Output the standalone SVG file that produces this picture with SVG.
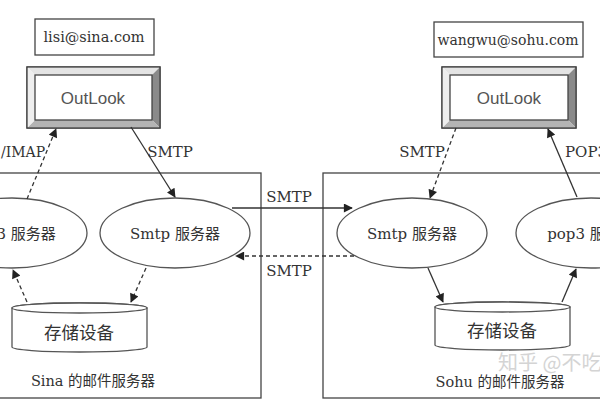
<svg xmlns="http://www.w3.org/2000/svg" width="600" height="400" viewBox="0 0 600 400">
<defs>
<style>
.box{fill:#fff;stroke:#444;stroke-width:1.3}
.frame{fill:none;stroke:#444;stroke-width:1.3}
.ell{fill:#fff;stroke:#555;stroke-width:1.3}
.ln{fill:none;stroke:#333;stroke-width:1.3}
.dash{stroke-dasharray:4 3}
.t{font-family:"DejaVu Serif","Noto Sans CJK SC",serif;font-size:15px;fill:#333;text-anchor:middle}
.ts{font-family:"Liberation Sans",Arial,sans-serif;font-size:17px;fill:#555;text-anchor:middle}
.wm{font-family:"Noto Sans CJK SC",sans-serif;font-size:20px;fill:#d4d4d4}
</style>
<marker id="ah" viewBox="0 0 10 10" refX="9" refY="5" markerWidth="10" markerHeight="9" markerUnits="userSpaceOnUse" orient="auto">
<path d="M0,0 L10,5 L0,10 z" fill="#222"/>
</marker>
</defs>
<rect width="600" height="400" fill="#fff"/>

<g id="sina-server">
<rect class="frame" x="-5" y="173" width="266" height="225"/>
<text class="t" x="93" y="386" style="font-size:14.5px">Sina 的邮件服务器</text>
</g>
<g id="sohu-server">
<rect class="frame" x="323" y="173" width="290" height="225"/>
<text class="t" x="500" y="387" style="font-size:14.5px">Sohu 的邮件服务器</text>
</g>

<g id="lisi-email">
<rect class="box" x="35" y="19" width="119" height="36"/>
<text class="t" x="94" y="42" style="font-size:14.5px">lisi@sina.com</text>
</g>
<g id="outlook-left">
<rect x="27" y="67" width="133" height="61" fill="#fff" stroke="#444" stroke-width="1.3"/>
<polygon points="27,67 160,67 152,75 35,75" fill="#e4e4e4"/>
<polygon points="160,67 160,128 152,120 152,75" fill="#8a8a8a"/>
<polygon points="27,128 160,128 152,120 35,120" fill="#b4b4b4"/>
<polygon points="27,67 35,75 35,120 27,128" fill="#eeeeee"/>
<rect x="27" y="67" width="133" height="61" fill="none" stroke="#444" stroke-width="1.3"/>
<rect x="35" y="75" width="117" height="45" fill="#fff" stroke="#444" stroke-width="1.3"/>
<text class="ts" x="93" y="104">OutLook</text>
</g>

<g id="wangwu-email">
<rect class="box" x="434" y="22" width="149" height="35"/>
<text class="t" x="508" y="45" style="font-size:14px">wangwu@sohu.com</text>
</g>
<g id="outlook-right">
<rect x="442" y="67" width="134" height="61" fill="#fff" stroke="#444" stroke-width="1.3"/>
<polygon points="442,67 576,67 568,75 450,75" fill="#e4e4e4"/>
<polygon points="576,67 576,128 568,120 568,75" fill="#8a8a8a"/>
<polygon points="442,128 576,128 568,120 450,120" fill="#b4b4b4"/>
<polygon points="442,67 450,75 450,120 442,128" fill="#eeeeee"/>
<rect x="442" y="67" width="134" height="61" fill="none" stroke="#444" stroke-width="1.3"/>
<rect x="450" y="75" width="118" height="45" fill="#fff" stroke="#444" stroke-width="1.3"/>
<text class="ts" x="509" y="104">OutLook</text>
</g>

<g id="sina-pop3">
<ellipse class="ell" cx="12" cy="233" rx="75" ry="35"/>
<text class="t" x="12" y="239">pop3 服务器</text>
</g>
<g id="sina-smtp">
<ellipse class="ell" cx="175" cy="233" rx="75" ry="35"/>
<text class="t" x="175" y="239">Smtp 服务器</text>
</g>
<g id="sina-storage">
<path class="ell" d="M12,308 A67.5,5 0 0 1 147,308 L147,347 A67.5,5 0 0 1 12,347 Z"/>
<ellipse class="ell" cx="79.5" cy="308" rx="67.5" ry="5"/>
<text class="t" x="79" y="339" style="font-size:17.5px">存储设备</text>
</g>

<g id="sohu-smtp">
<ellipse class="ell" cx="412" cy="233" rx="75" ry="35"/>
<text class="t" x="412" y="239">Smtp 服务器</text>
</g>
<g id="sohu-pop3">
<ellipse class="ell" cx="591" cy="233" rx="75" ry="35"/>
<text class="t" x="591" y="239">pop3 服务器</text>
</g>
<g id="sohu-storage">
<path class="ell" d="M435,307 A67.5,5 0 0 1 570,307 L570,345 A67.5,5 0 0 1 435,345 Z"/>
<ellipse class="ell" cx="502.5" cy="307" rx="67.5" ry="5"/>
<text class="t" x="502" y="337" style="font-size:17.5px">存储设备</text>
</g>

<g id="connectors">
<line class="ln dash" x1="27" y1="199" x2="56" y2="129" marker-end="url(#ah)"/>
<line class="ln" x1="131" y1="127" x2="175" y2="197" marker-end="url(#ah)"/>
<line class="ln dash" x1="27" y1="302" x2="13" y2="270" marker-end="url(#ah)"/>
<line class="ln dash" x1="146" y1="268" x2="131" y2="302" marker-end="url(#ah)"/>
<line class="ln" x1="232" y1="208" x2="352" y2="208" marker-end="url(#ah)"/>
<line class="ln dash" x1="354" y1="256" x2="236" y2="256" marker-end="url(#ah)"/>
<line class="ln dash" x1="456" y1="128" x2="430" y2="198" marker-end="url(#ah)"/>
<line class="ln" x1="577" y1="197" x2="548" y2="129" marker-end="url(#ah)"/>
<line class="ln" x1="428" y1="268" x2="443" y2="302" marker-end="url(#ah)"/>
<line class="ln" x1="562" y1="302" x2="576" y2="269" marker-end="url(#ah)"/>
<text class="t" x="1" y="157" style="text-anchor:start;font-size:14px">/IMAP</text>
<text class="t" x="170" y="157">SMTP</text>
<text class="t" x="289" y="202">SMTP</text>
<text class="t" x="289" y="276">SMTP</text>
<text class="t" x="422" y="157">SMTP</text>
<text class="t" x="565" y="157" style="text-anchor:start">POP3</text>
</g>

<text class="wm" x="498" y="370">知乎 @不吃</text>
</svg>
